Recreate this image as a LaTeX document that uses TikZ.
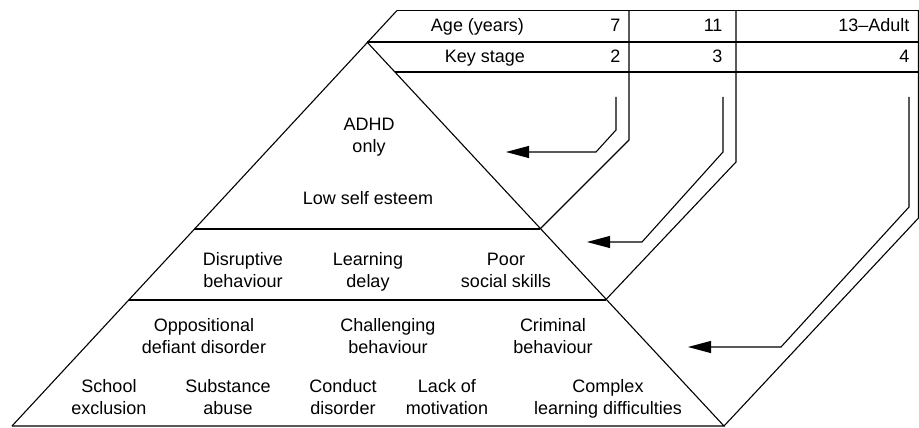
\documentclass[tikz,border=0pt]{standalone}
\usepackage{fontspec}
\setmainfont{Liberation Sans}
\usetikzlibrary{arrows.meta}
\tikzset{
	lbl/.style={font=\fontsize{18}{22}\selectfont, align=center, inner sep=0pt, anchor=base},
	numlbl/.style={font=\fontsize{18}{22}\selectfont, inner sep=0pt, anchor=base east},
	stagearrow/.style={-{Triangle[length=23pt,width=12pt]}}
}

\begin{document}
\begin{tikzpicture}[x=1pt, y=-1pt, line width=1.1pt]
	\useasboundingbox (0,0) rectangle (919,428);
	%%%% pyramid
	\coordinate (apex) at (367,42);
	\coordinate (botL) at (12,426);
	\coordinate (botR) at (724,426);
	\coordinate (tabTL) at (397,10.5);
	\coordinate (sepAL) at (194,229);
	\coordinate (sepAR) at (540,229);
	\coordinate (sepBL) at (128.5,300);
	\coordinate (sepBR) at (605.5,300);

	\draw (botL)--(tabTL);
	\draw (apex)--(botR)--(botL);
	\draw (sepAL)--(sepAR);
	\draw (sepBL)--(sepBR);
	%%%%%%

	%%%% table
	\draw (tabTL)--(919,10.5);
	\draw (apex)--(919,42);
	\draw (395,72)--(919,72);

	\node[lbl] (ageLbl) at (477.5,32) {Age (years)};
	\node[lbl] (ksLbl) at (485,63) {Key stage};
	\node[numlbl] (age7) at (621,32) {7};
	\node[numlbl] (ks2) at (621,63) {2};
	\node[numlbl] (age11) at (723,32) {11};
	\node[numlbl] (ks3) at (723,63) {3};
	\node[numlbl] (ageAd) at (910,32) {13--Adult};
	\node[numlbl] (ks4) at (910,63) {4};
	%%%%%%

	%%%% bands from the columns
	\coordinate (colA) at (629,10.5);
	\coordinate (colAk) at (629,140);
	\coordinate (colB) at (736,10.5);
	\coordinate (colBk) at (736,162);
	\coordinate (colC) at (918.5,10.5);
	\coordinate (colCk) at (918.5,218);
	\draw (colA)--(colAk)--(sepAR);
	\draw (colB)--(colBk)--(sepBR);
	\draw (colC)--(colCk)--(botR);

	\coordinate (arrA0) at (616,97);
	\coordinate (arrA1) at (616,130);
	\coordinate (arrA2) at (596,152);
	\coordinate (arrA3) at (506,152);
	\coordinate (arrB0) at (723,97);
	\coordinate (arrB1) at (723,152);
	\coordinate (arrB2) at (642,242);
	\coordinate (arrB3) at (587,242);
	\coordinate (arrC0) at (909,97);
	\coordinate (arrC1) at (909,207);
	\coordinate (arrC2) at (781,347);
	\coordinate (arrC3) at (688,347);
	\draw[stagearrow] (arrA0)--(arrA1)--(arrA2)--(arrA3);
	\draw[stagearrow] (arrB0)--(arrB1)--(arrB2)--(arrB3);
	\draw[stagearrow] (arrC0)--(arrC1)--(arrC2)--(arrC3);
	%%%%%%

	%%%% levels
	\node[lbl] (adhd) at (369,152) {ADHD\\only};
	\node[lbl] (lowSE) at (368,204) {Low self esteem};

	\node[lbl] (disrupt) at (243,287) {Disruptive\\behaviour};
	\node[lbl] (learnDel) at (368,287) {Learning\\delay};
	\node[lbl] (poorSoc) at (506,287) {Poor\\social skills};

	\node[lbl] (oppDef) at (204,353) {Oppositional\\defiant disorder};
	\node[lbl] (challBeh) at (388,353) {Challenging\\behaviour};
	\node[lbl] (crimBeh) at (553,353) {Criminal\\behaviour};

	\node[lbl] (schoolEx) at (109,414) {School\\exclusion};
	\node[lbl] (substAb) at (228,414) {Substance\\abuse};
	\node[lbl] (conductDis) at (343,414) {Conduct\\disorder};
	\node[lbl] (lackMot) at (447,414) {Lack of\\motivation};
	\node[lbl] (complexLD) at (608,414) {Complex\\learning difficulties};
	%%%%%%
\end{tikzpicture}
\end{document}
